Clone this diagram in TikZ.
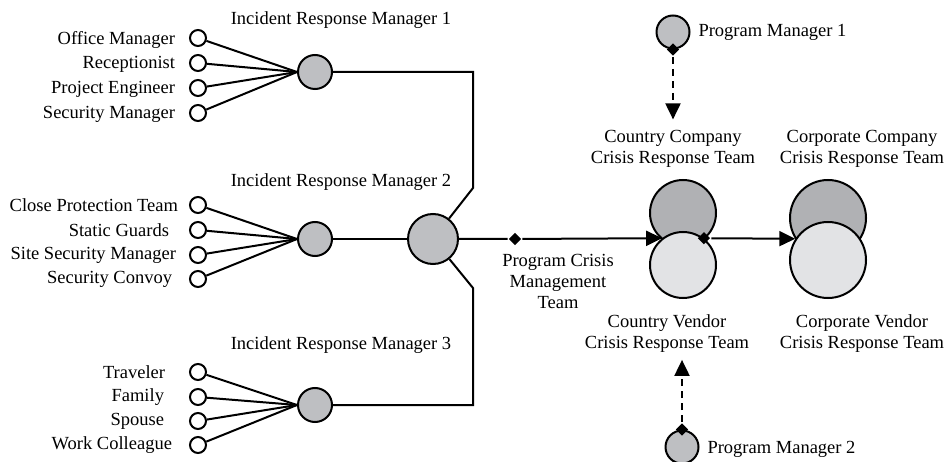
\documentclass[tikz,border=0pt]{standalone}
\usepackage{fontspec}
\setmainfont{Liberation Serif}
\usepackage{tikz}
\usetikzlibrary{positioning, arrows.meta, shapes.geometric}
\definecolor{hubgray}{RGB}{190,191,194}
\definecolor{teamgray}{RGB}{176,177,180}
\definecolor{teamlight}{RGB}{226,227,229}
\tikzset{
	>={Triangle[length=16pt,width=15pt]},
	every node/.style={font=\fontsize{18.5}{21}\selectfont, inner sep=1pt},
	member/.style={circle, draw, fill=white, minimum size=16pt, inner sep=0pt},
	hub/.style={circle, draw, fill=hubgray, minimum size=34pt, inner sep=0pt},
	pm/.style={circle, draw, fill=hubgray, minimum size=33pt, inner sep=0pt},
	teamtop/.style={circle, draw, fill=teamgray, minimum size=66pt, inner sep=0pt},
	teambottom/.style={circle, draw, fill=teamlight, minimum size=66pt, inner sep=0pt},
	dot/.style={diamond, fill=black, minimum size=13pt, inner sep=0pt},
	dashline/.style={dash pattern=on 7pt off 5pt},
}

\begin{document}
\begin{tikzpicture}[x=1pt, y=-1pt, line width=2pt]
			\useasboundingbox (0,0) rectangle (947,462);
			
			\node[hub] (IRM1) at (315,72) {};
			\node[hub] (IRM2) at (315,239) {};
			\node[hub] (IRM3) at (315,405) {};
			\node[hub, minimum size=50pt] (PCMT) at (433,239) {};
			\node[above=24pt of IRM1, xshift=26pt] (IRM1txt) {Incident Response Manager 1};
			\node[above=29pt of IRM2, xshift=26pt] (IRM2txt) {Incident Response Manager 2};
			\node[above=32pt of IRM3, xshift=26pt] (IRM3txt) {Incident Response Manager 3};
			
			\node[member] (m1a) at (198,38) {};
			\node[member] (m1b) at (198,63) {};
			\node[member] (m1c) at (198,88) {};
			\node[member] (m1d) at (198,113) {};
			\node[left=12pt of m1a, yshift=-2pt] (m1atxt) {Office Manager};
			\node[left=12pt of m1b, yshift=-1pt] (m1btxt) {Receptionist};
			\node[left=12pt of m1c, yshift=-1pt] (m1ctxt) {Project Engineer};
			\node[left=12pt of m1d, yshift=-1pt] (m1dtxt) {Security Manager};
			
			\node[member] (m2a) at (198,205) {};
			\node[member] (m2b) at (198,230) {};
			\node[member] (m2c) at (198,255) {};
			\node[member] (m2d) at (198,279) {};
			\node[left=9pt of m2a] (m2atxt) {Close Protection Team};
			\node[left=18pt of m2b] (m2btxt) {Static Guards};
			\node[left=11pt of m2c] (m2ctxt) {Site Security Manager};
			\node[left=15pt of m2d] (m2dtxt) {Security Convoy};
			
			\node[member] (m3a) at (198,372) {};
			\node[member] (m3b) at (198,397) {};
			\node[member] (m3c) at (198,421) {};
			\node[member] (m3d) at (198,445) {};
			\node[left=22pt of m3a] (m3atxt) {Traveler};
			\node[left=23pt of m3b] (m3btxt) {Family};
			\node[left=23pt of m3c] (m3ctxt) {Spouse};
			\node[left=15pt of m3d] (m3dtxt) {Work Colleague};
			
			\node[align=center] (PCMTtxt) at (558,281) {Program Crisis\\Management\\Team};
			
			\node[teamtop] (COUNTRYCO) at (683,213) {};
			\node[teambottom] (COUNTRYVEN) at (683,265) {};
			\node[teamtop, minimum size=76pt] (CORPCO) at (828,218) {};
			\node[teambottom, minimum size=76pt] (CORPVEN) at (828,260) {};
			\node[align=center] (COUNTRYCOtxt) at (673,149) {Country Company\\Crisis Response Team};
			\node[align=center] (CORPCOtxt) at (862,149) {Corporate Company\\Crisis Response Team};
			\node[align=center] (COUNTRYVENtxt) at (667,334) {Country Vendor\\Crisis Response Team};
			\node[align=center] (CORPVENtxt) at (862,334) {Corporate Vendor\\Crisis Response Team};
			
			\node[pm] (PM1) at (673,32) {};
			\node[pm] (PM2) at (682,447) {};
			\node[right=6pt of PM1] (PM1txt) {Program Manager 1};
			\node[right=6pt of PM2, yshift=-2pt] (PM2txt) {Program Manager 2};
			
			\node[dot] (PM1dot) at (PM1.south) {};
			\node[dot] (PM2dot) at (PM2.north) {};
			\node[dot] (PCMTdot) at (515,239) {};
			\node[dot] (COUNTRYdot) at (COUNTRYVEN.52) {};
			
			\coordinate (KNEE1) at (473,188);
			\coordinate (KNEE3) at (473,288);
			
			\draw (m1a) -- (IRM1.west);
			\draw (m1b) -- (IRM1.west);
			\draw (m1c) -- (IRM1.west);
			\draw (m1d) -- (IRM1.west);
			\draw (m2a) -- (IRM2.west);
			\draw (m2b) -- (IRM2.west);
			\draw (m2c) -- (IRM2.west);
			\draw (m2d) -- (IRM2.west);
			\draw (m3a) -- (IRM3.west);
			\draw (m3b) -- (IRM3.west);
			\draw (m3c) -- (IRM3.west);
			\draw (m3d) -- (IRM3.west);
			
			\draw (IRM1) -| (KNEE1) -- (PCMT);
			\draw (IRM2) -- (PCMT);
			\draw (IRM3) -| (KNEE3) -- (PCMT);
			\draw[->] (PCMT) -- (PCMTdot) -- (COUNTRYVEN.128);
			\draw[->] (COUNTRYdot) -- (CORPVEN.147);
			\draw[->, dashline, shorten >=9pt] (PM1dot) -- (PM1dot |- COUNTRYCOtxt.north);
			\draw[->, dashline, shorten >=5pt] (PM2dot) -- (PM2dot |- COUNTRYVENtxt.south);
			
		\end{tikzpicture}
\end{document}
